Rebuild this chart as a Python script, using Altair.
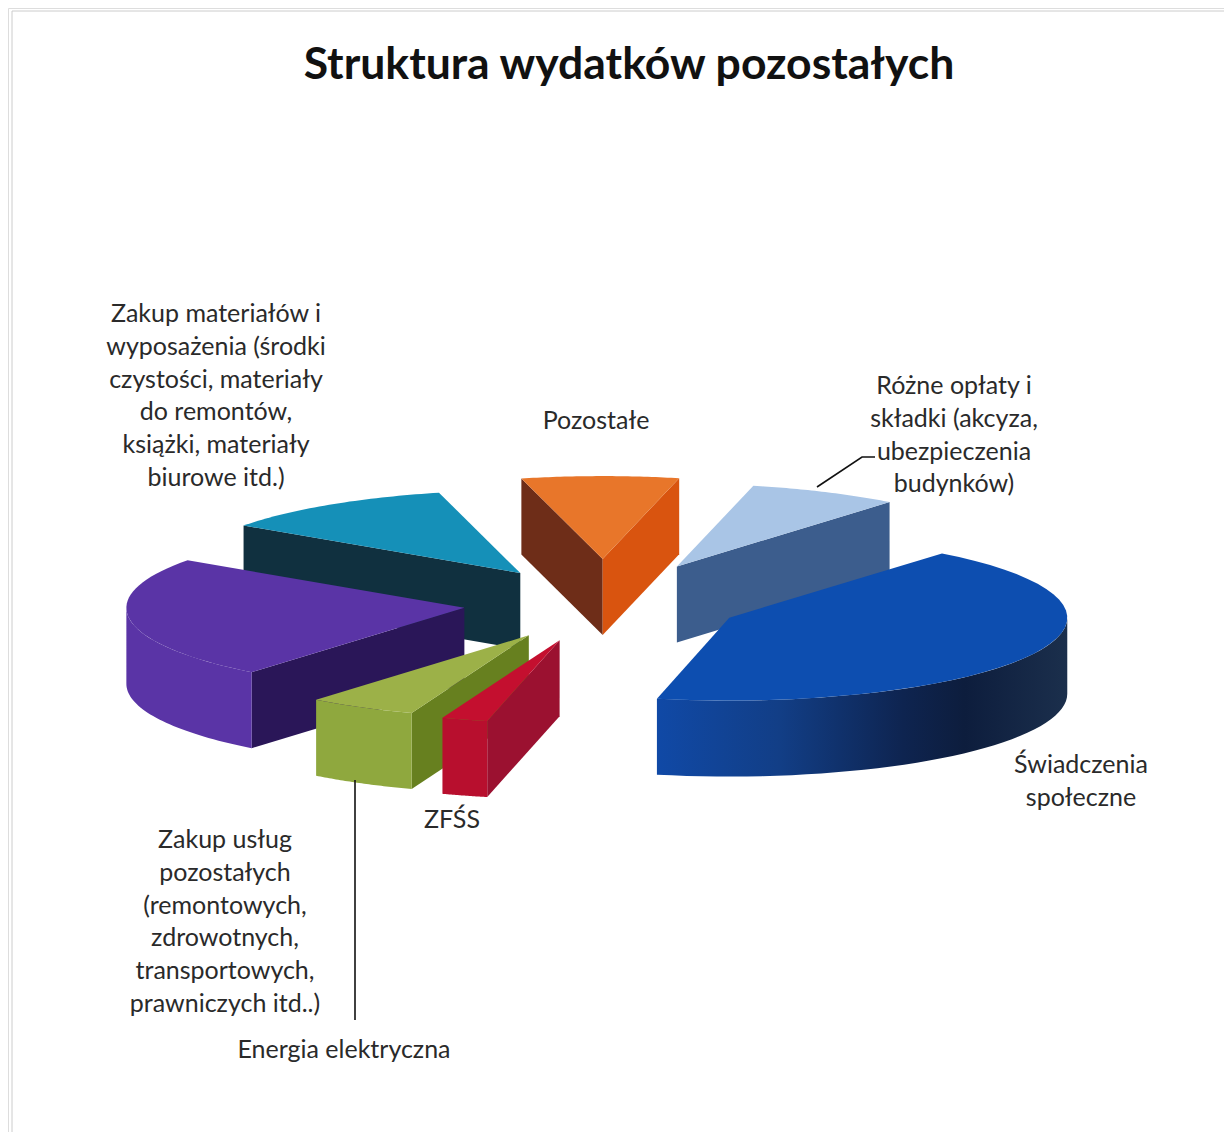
import math
import altair as alt

# ---- data ----
names = ["Świadczenia społeczne", "ZFŚS", "Energia elektryczna",
         "Zakup usług pozostałych", "Zakup materiałów i wyposażenia",
         "Pozostałe", "Różne opłaty i składki"]
shares = [42.6, 2.2, 5.2, 23.9, 11.4, 7.5, 7.2]      # percent, clockwise
explode = [139, 158, 152, 141, 148, 180, 166]         # slice pull-out
first_angle = 39.0
draw_order = [5, 6, 4, 3, 0, 2, 1]                    # back to front

top_colors = ["#0d4eb0", "#c40f2f", "#9cb148", "#5a34a6", "#1590b8", "#e8762a", "#a9c5e6"]
outer_stops = [
    [("#1049a6", 0), ("#123e86", 0.3), ("#0e2450", 0.6), ("#0d1d3d", 0.75), ("#1b2f4c", 1)],
    [("#b80f2e", 0), ("#b80f2e", 1)],
    [("#8fa83e", 0), ("#8fa83e", 1)],
    [("#5a34a6", 0), ("#5a34a6", 1)],
    [("#0f3040", 0), ("#0f3040", 1)],
    [("#c8500f", 0), ("#c8500f", 1)],
    [("#3c5d8d", 0), ("#3c5d8d", 1)],
]
start_wall = ["#123e86", "#9b1130", "#67801f", "#2a1658", "#10303f", "#6e2d18", "#3c5d8d"]
end_wall = ["#123e86", "#9b1130", "#67801f", "#2a1658", "#10303f", "#d9540f", "#3c5d8d"]

label_lines = [
    (["Zakup materiałów i", "wyposażenia (środki", "czystości, materiały", "do remontów,",
      "książki, materiały", "biurowe itd.)"], 216, 314),
    (["Pozostałe"], 596, 421),
    (["Różne opłaty i", "składki (akcyza,", "ubezpieczenia", "budynków)"], 954, 386),
    (["Świadczenia", "społeczne"], 1081, 765),
    (["ZFŚS"], 452, 820),
    (["Zakup usług", "pozostałych", "(remontowych,", "zdrowotnych,", "transportowych,",
      "prawniczych itd..)"], 225, 840),
    (["Energia elektryczna"], 344, 1050),
]
title_text = "Struktura wydatków pozostałych"
leaders = [[(355, 780), (355, 1020)], [(817, 487), (862, 457), (875, 457)]]
scan_edges = [[(12, 11), (1232, 11)], [(12, 11), (12, 1140)]]

# ---- projection parameters ----
CX, CY, R, Q, H = 604, 603, 338, 0.245, 76
W_PX, H_PX = 1216, 1124
xs = alt.Scale(domain=[8, 8 + W_PX], range=[0, W_PX], nice=False, zero=False)
ys = alt.Scale(domain=[8, 8 + H_PX], range=[0, H_PX], nice=False, zero=False)
X = alt.X("x:Q", scale=xs, axis=None)
Y = alt.Y("y:Q", scale=ys, axis=None)


def pt(apex, a, r=R, z=0):
    t = math.radians(a)
    return (apex[0] + r * math.sin(t), apex[1] - r * Q * math.cos(t) + z)


def poly(points, fill, stroke=None):
    rows = [{"x": p[0], "y": p[1], "i": i} for i, p in enumerate(points + points[:1])]
    return alt.Chart(alt.Data(values=rows)).mark_line(
        fill=fill, stroke=stroke or "transparent", strokeWidth=0.6, clip=False
    ).encode(x=X, y=Y, order="i:Q")


def arc(a0, a1, n=40):
    return [a0 + (a1 - a0) * k / n for k in range(n + 1)]


layers = []
for edge in scan_edges:
    rows = [{"x": p[0], "y": p[1], "i": i} for i, p in enumerate(edge)]
    layers.append(alt.Chart(alt.Data(values=rows)).mark_line(color="#cccccc", strokeWidth=1)
                  .encode(x=X, y=Y, order="i:Q"))

# boundaries
bounds = [first_angle]
for s in shares:
    bounds.append(bounds[-1] + s * 3.6)

for k in draw_order:
    a0, a1 = bounds[k], bounds[k + 1]
    mid = math.radians((a0 + a1) / 2)
    apex = (CX + explode[k] * math.sin(mid), CY - explode[k] * Q * math.cos(mid))
    # radial walls facing the viewer
    if math.sin(math.radians(a0)) < 0:
        e = pt(apex, a0)
        layers.append(poly([apex, e, (e[0], e[1] + H), (apex[0], apex[1] + H)], start_wall[k]))
    if math.sin(math.radians(a1)) > 0:
        e = pt(apex, a1)
        layers.append(poly([apex, e, (e[0], e[1] + H), (apex[0], apex[1] + H)], end_wall[k]))
    # outer wall: the part of the rim on the viewer's side
    lo, hi = max(a0, 90), min(a1, 270)
    if hi > lo:
        rim = [pt(apex, a) for a in arc(lo, hi)]
        low = [(p[0], p[1] + H) for p in reversed(rim)]
        grad = alt.LinearGradient(
            gradient="linear", x1=0, x2=1, y1=0, y2=0,
            stops=[alt.GradientStop(color=c, offset=o) for c, o in outer_stops[k]])
        layers.append(poly(rim + low, grad))
    # top face
    layers.append(poly([apex] + [pt(apex, a) for a in arc(a0, a1)], top_colors[k]))

for path in leaders:
    rows = [{"x": p[0], "y": p[1], "i": i} for i, p in enumerate(path)]
    layers.append(alt.Chart(alt.Data(values=rows)).mark_line(color="#111111", strokeWidth=1.6)
                  .encode(x=X, y=Y, order="i:Q"))

text_rows = []
for lines, cx, y0 in label_lines:
    for j, line in enumerate(lines):
        text_rows.append({"x": cx, "y": y0 + j * 32.8, "t": line})
layers.append(alt.Chart(alt.Data(values=text_rows)).mark_text(
    font="Lato", fontSize=25, color="#2a2a2a", align="center", baseline="middle"
).encode(x=X, y=Y, text="t:N"))
layers.append(alt.Chart(alt.Data(values=[{"x": 629, "y": 66, "t": title_text}])).mark_text(
    font="Lato", fontSize=44.5, fontWeight="bold", color="#111111", align="center", baseline="middle"
).encode(x=X, y=Y, text="t:N"))

chart = alt.layer(*layers).properties(
    width=W_PX, height=H_PX, padding=0, autosize=alt.AutoSizeParams(type="none")
).configure_view(stroke=None).configure(background="white")

chart.save("out.html", embed_options={"renderer": "svg", "actions": False})
